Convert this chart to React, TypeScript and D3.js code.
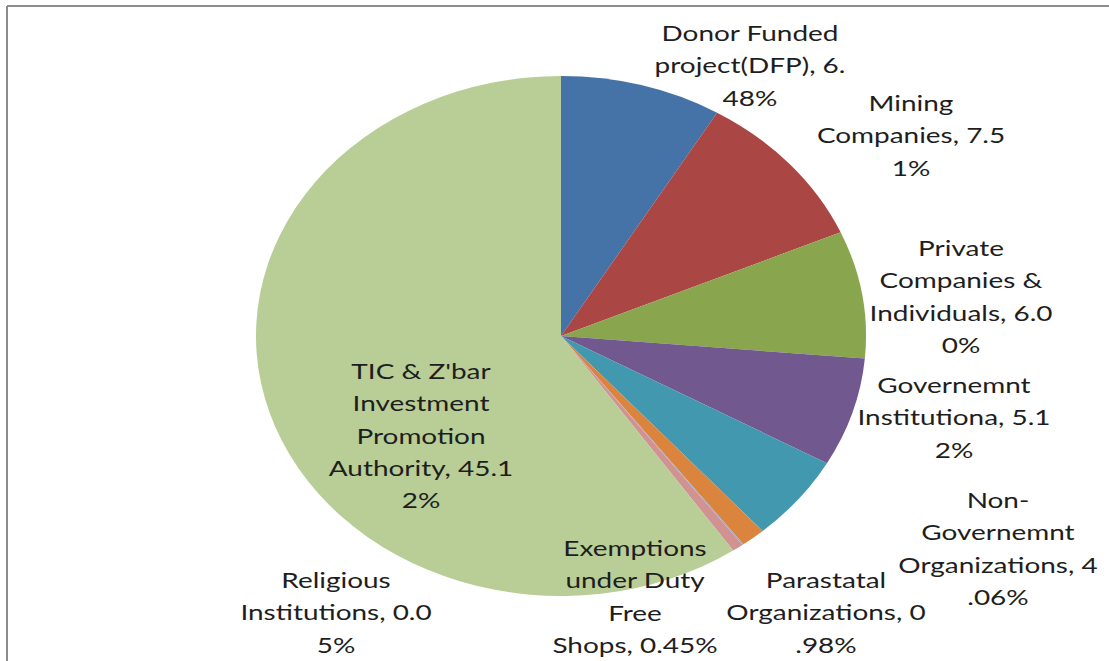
import React from "react";
import * as d3 from "d3";

const categories = [
  "Donor Funded project(DFP)",
  "Mining Companies",
  "Private Companies & Individuals",
  "Governemnt Institutiona",
  "Non-Governemnt Organizations",
  "Parastatal Organizations",
  "Religious Institutions",
  "Exemptions under Duty Free Shops",
  "TIC & Z'bar Investment Promotion Authority",
];
const values = [6.48, 7.51, 6.0, 5.12, 4.06, 0.98, 0.05, 0.45, 45.12];
const colors = ["#4572A7", "#AA4643", "#89A54E", "#71588F", "#4198AF", "#DB843D", "#93A9CF", "#D19392", "#B9CD96"];
const labelLines = [
  ["Donor Funded", "project(DFP), 6.", "48%"],
  ["Mining", "Companies, 7.5", "1%"],
  ["Private", "Companies &", "Individuals, 6.0", "0%"],
  ["Governemnt", "Institutiona, 5.1", "2%"],
  ["Non-", "Governemnt", "Organizations, 4", ".06%"],
  ["Parastatal", "Organizations, 0", ".98%"],
  ["Religious", "Institutions, 0.0", "5%"],
  ["Exemptions", "under Duty", "Free", "Shops, 0.45%"],
  ["TIC & Z'bar", "Investment", "Promotion", "Authority, 45.1", "2%"],
];
// label anchor: center x, first line center y (layout)
const labelPos: [number, number][] = [
  [750, 33], [911, 103], [961, 248], [954, 385], [998, 500],
  [826, 580], [336, 580], [635, 548], [421, 371],
];

const W = 1109, H = 661;
const cx = 561, cy = 336, rx = 305, ry = 260;
const lineH = 32.3;

export default function App() {
  const pie = d3.pie<number>().sort(null).value((d) => d);
  const arcs = pie(values);
  const arc = d3.arc<d3.PieArcDatum<number>>().innerRadius(0).outerRadius(ry);
  return (
    <svg width={W} height={H} style={{ position: "absolute", left: 0, top: 0, background: "#fff" }}>
      <line x1={7} y1={6} x2={W} y2={6} stroke="#8c8c8c" strokeWidth={2} />
      <line x1={7} y1={6} x2={7} y2={H} stroke="#8c8c8c" strokeWidth={2} />
      <g transform={`translate(${cx},${cy}) scale(${rx / ry},1)`}>
        {arcs.map((a, i) => (
          <path key={categories[i]} d={arc(a) || ""} fill={colors[i]} />
        ))}
      </g>
      <g fontFamily="Lato, 'Open Sans', sans-serif" fontSize={22} fill="#1e1e1e">
        {labelLines.map((lines, i) => (
          <g key={i} transform={`translate(${labelPos[i][0]},${labelPos[i][1]}) scale(1.27,1)`}>
            {lines.map((t, j) => (
              <text key={j} x={0} y={j * lineH + 8} textAnchor="middle">{t}</text>
            ))}
          </g>
        ))}
      </g>
    </svg>
  );
}
